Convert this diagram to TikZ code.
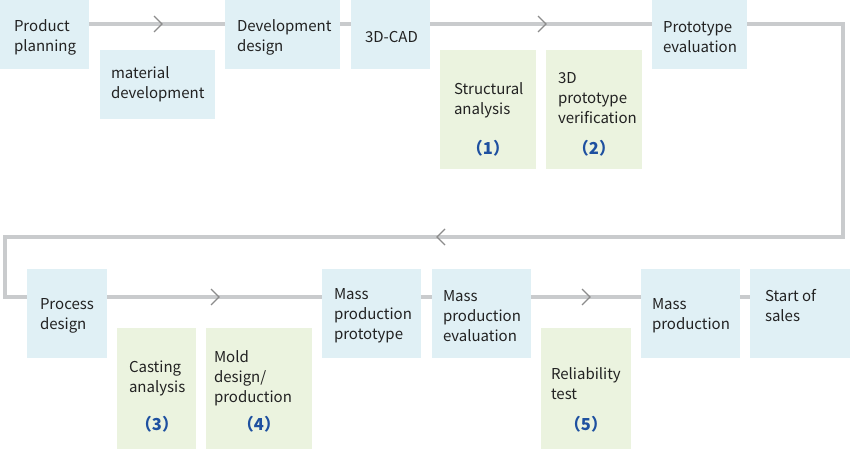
\documentclass[tikz,border=0pt]{standalone}
\usepackage{fontspec}
\usetikzlibrary{calc}
\setmainfont{Noto Sans CJK JP}
\definecolor{bluebox}{HTML}{E0F0F5}
\definecolor{greenbox}{HTML}{EBF3DF}
\definecolor{flowline}{HTML}{C9CBCD}
\definecolor{chev}{HTML}{8C8C8C}
\definecolor{numblue}{HTML}{1E50A0}
\definecolor{txt}{HTML}{222222}
\begin{document}
\begin{tikzpicture}[x=1pt,y=-1pt,
  bbox/.style={fill=bluebox, inner sep=0, outer sep=0, anchor=north west, draw=none},
  gbox/.style={fill=greenbox, inner sep=0, outer sep=0, anchor=north west, draw=none},
  lbl/.style={inner sep=0, outer sep=0, anchor=west, align=left, text=txt, yshift=-2pt,
    font=\fontsize{15}{20}\selectfont},
  num/.style={inner sep=0, outer sep=0, text=numblue, font=\fontsize{16.5}{20}\selectfont\bfseries},
  flow/.style={draw=flowline, line width=3.5pt},
  chevron/.style={draw=chev, line width=1.3pt}]
\useasboundingbox (0,0) rectangle (850,449);

% flow line coordinates
\coordinate (l0) at (89,24);
\coordinate (l1) at (843,24);
\coordinate (l2) at (843,237);
\coordinate (l3) at (5,237);
\coordinate (l4) at (5,297);
\coordinate (l5) at (750,297);
\draw[flow] (l0) -- (l1) -- (l2) -- (l3) -- (l4) -- (l5);

% chevrons
\coordinate (c1) at (158,24);
\coordinate (c2) at (542,24);
\coordinate (c3) at (441,237);
\coordinate (c4) at (215,297);
\coordinate (c5) at (586,297);
\draw[chevron] ($(c1)+(-4,-8)$) -- ($(c1)+(4,0)$) -- ($(c1)+(-4,8)$);
\draw[chevron] ($(c2)+(-4,-8)$) -- ($(c2)+(4,0)$) -- ($(c2)+(-4,8)$);
\draw[chevron] ($(c3)+(4,-8)$) -- ($(c3)+(-4,0)$) -- ($(c3)+(4,8)$);
\draw[chevron] ($(c4)+(-4,-8)$) -- ($(c4)+(4,0)$) -- ($(c4)+(-4,8)$);
\draw[chevron] ($(c5)+(-4,-8)$) -- ($(c5)+(4,0)$) -- ($(c5)+(-4,8)$);

% top row
\node[bbox, minimum width=89, minimum height=69] (pp) at (0,0) {};
\node[lbl] (ppt) at (14,35) {Product\\planning};
\node[bbox, minimum width=115, minimum height=69] (md) at (100,50) {};
\node[lbl] (mdt) at (111,82) {material\\development};
\node[bbox, minimum width=115, minimum height=69] (dd) at (225,0) {};
\node[lbl] (ddt) at (237,35) {Development\\design};
\node[bbox, minimum width=79, minimum height=69] (cad) at (351,0) {};
\node[lbl] (cadt) at (365,35) {3D-CAD};
\node[gbox, minimum width=96, minimum height=119] (sa) at (440,50) {};
\node[lbl] (sat) at (454,98) {Structural\\analysis};
\node[num] (n1) at (488,148) {（1）};
\node[gbox, minimum width=96, minimum height=119] (pv) at (546,50) {};
\node[lbl] (pvt) at (558,96) {3D\\prototype\\verification};
\node[num] (n2) at (594,148) {（2）};
\node[bbox, minimum width=95, minimum height=69] (pe) at (652,0) {};
\node[lbl] (pet) at (663,35) {Prototype\\evaluation};

% bottom row
\node[bbox, minimum width=80, minimum height=89] (prd) at (27,269) {};
\node[lbl] (prdt) at (40,314) {Process\\design};
\node[gbox, minimum width=79, minimum height=121] (ca) at (117,328) {};
\node[lbl] (cat) at (129,376) {Casting\\analysis};
\node[num] (n3) at (157,424) {（3）};
\node[gbox, minimum width=106, minimum height=121] (mo) at (206,328) {};
\node[lbl] (mot) at (214,376) {Mold\\design/\\production};
\node[num] (n4) at (259,424) {（4）};
\node[bbox, minimum width=99, minimum height=89] (mpp) at (322,269) {};
\node[lbl] (mppt) at (334,314) {Mass\\production\\prototype};
\node[bbox, minimum width=99, minimum height=89] (mpe) at (432,269) {};
\node[lbl] (mpet) at (443,314) {Mass\\production\\evaluation};
\node[gbox, minimum width=90, minimum height=121] (rt) at (541,328) {};
\node[lbl] (rtt) at (551,382) {Reliability\\test};
\node[num] (n5) at (586,424) {（5）};
\node[bbox, minimum width=99, minimum height=89] (mp) at (641,269) {};
\node[lbl] (mpt) at (652,314) {Mass\\production};
\node[bbox, minimum width=100, minimum height=89] (ss) at (750,269) {};
\node[lbl] (sst) at (765,304) {Start of\\sales};
\end{tikzpicture}
\end{document}
